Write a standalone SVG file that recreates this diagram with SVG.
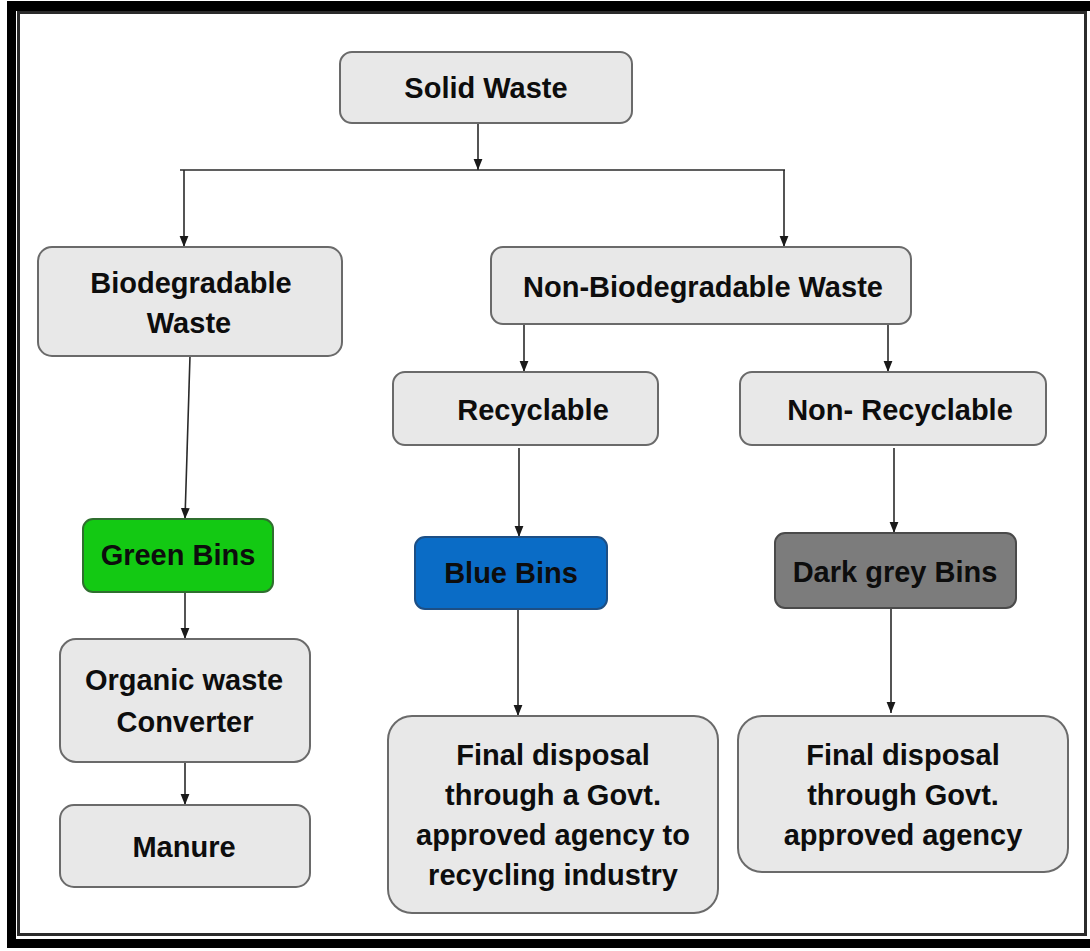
<svg xmlns="http://www.w3.org/2000/svg" width="1090" height="951" viewBox="0 0 1090 951">
<style>
.box{fill:#e8e8e8;stroke:#6a6a6a;stroke-width:2}
.t{font-family:"Liberation Sans",Arial,sans-serif;font-weight:bold;font-size:29px;fill:#0d0d0d;text-anchor:middle}
.c{stroke:#2a2a2a;stroke-width:1.6;fill:none}
</style>
<defs>
<marker id="ah" viewBox="0 0 10 10" refX="10" refY="5" markerWidth="11" markerHeight="11" markerUnits="userSpaceOnUse" orient="auto">
<path d="M0,1 L10,5 L0,9 Z" fill="#1a1a1a"/>
</marker>
</defs>
<rect x="0" y="0" width="1090" height="951" fill="#fff"/>
<g id="frame">
<rect x="7" y="1" width="1083" height="10" fill="#000"/>
<rect x="7" y="1" width="9" height="947" fill="#000"/>
<rect x="7" y="939" width="1083" height="9" fill="#000"/>
<rect x="18.5" y="12.5" width="1067" height="922" fill="none" stroke="#2b2b2b" stroke-width="3"/>
</g>
<g id="connectors">
<line class="c" x1="478" y1="123" x2="478" y2="170" marker-end="url(#ah)"/>
<line class="c" x1="180" y1="170" x2="785" y2="170"/>
<line class="c" x1="184" y1="170" x2="184" y2="247" marker-end="url(#ah)"/>
<line class="c" x1="784" y1="170" x2="784" y2="247" marker-end="url(#ah)"/>
<line class="c" x1="190" y1="356" x2="185" y2="519" marker-end="url(#ah)"/>
<line class="c" x1="185" y1="592" x2="185" y2="639" marker-end="url(#ah)"/>
<line class="c" x1="185" y1="762" x2="185" y2="805" marker-end="url(#ah)"/>
<line class="c" x1="524" y1="324" x2="524" y2="372" marker-end="url(#ah)"/>
<line class="c" x1="888" y1="324" x2="888" y2="372" marker-end="url(#ah)"/>
<line class="c" x1="519" y1="448" x2="519" y2="537" marker-end="url(#ah)"/>
<line class="c" x1="894" y1="448" x2="894" y2="533" marker-end="url(#ah)"/>
<line class="c" x1="518" y1="609" x2="518" y2="716" marker-end="url(#ah)"/>
<line class="c" x1="891" y1="608" x2="891" y2="713" marker-end="url(#ah)"/>
</g>
<g id="solid-waste">
<rect class="box" x="340" y="52" width="292" height="71" rx="12"/>
<text class="t" x="486" y="98">Solid Waste</text>
</g>
<g id="biodegradable">
<rect class="box" x="38" y="247" width="304" height="109" rx="14"/>
<text class="t" x="191" y="293">Biodegradable</text>
<text class="t" x="189" y="333">Waste</text>
</g>
<g id="non-biodegradable">
<rect class="box" x="491" y="247" width="420" height="77" rx="12"/>
<text class="t" x="703" y="297">Non-Biodegradable Waste</text>
</g>
<g id="recyclable">
<rect class="box" x="393" y="372" width="265" height="73" rx="12"/>
<text class="t" x="533" y="420">Recyclable</text>
</g>
<g id="non-recyclable">
<rect class="box" x="740" y="372" width="306" height="73" rx="12"/>
<text class="t" x="900" y="420">Non- Recyclable</text>
</g>
<g id="green-bins">
<rect x="83" y="519" width="190" height="73" rx="10" fill="#13c913" stroke="#2f6f2f" stroke-width="2"/>
<text class="t" x="178" y="565">Green Bins</text>
</g>
<g id="blue-bins">
<rect x="415" y="537" width="192" height="72" rx="10" fill="#0a6cc6" stroke="#1d4f85" stroke-width="2"/>
<text class="t" x="511" y="583">Blue Bins</text>
</g>
<g id="dark-grey-bins">
<rect x="775" y="533" width="241" height="75" rx="10" fill="#7c7c7c" stroke="#4a4a4a" stroke-width="2"/>
<text class="t" x="895" y="582">Dark grey Bins</text>
</g>
<g id="organic-converter">
<rect class="box" x="60" y="639" width="250" height="123" rx="16"/>
<text class="t" x="184" y="690">Organic waste</text>
<text class="t" x="185" y="732">Converter</text>
</g>
<g id="manure">
<rect class="box" x="60" y="805" width="250" height="82" rx="14"/>
<text class="t" x="184" y="857">Manure</text>
</g>
<g id="final-recycling">
<rect class="box" x="388" y="716" width="330" height="197" rx="24"/>
<text class="t" x="553" y="765">Final disposal</text>
<text class="t" x="553" y="805">through a Govt.</text>
<text class="t" x="553" y="845">approved agency to</text>
<text class="t" x="553" y="885">recycling industry</text>
</g>
<g id="final-agency">
<rect class="box" x="738" y="716" width="330" height="156" rx="24"/>
<text class="t" x="903" y="765">Final disposal</text>
<text class="t" x="903" y="805">through Govt.</text>
<text class="t" x="903" y="845">approved agency</text>
</g>
</svg>
